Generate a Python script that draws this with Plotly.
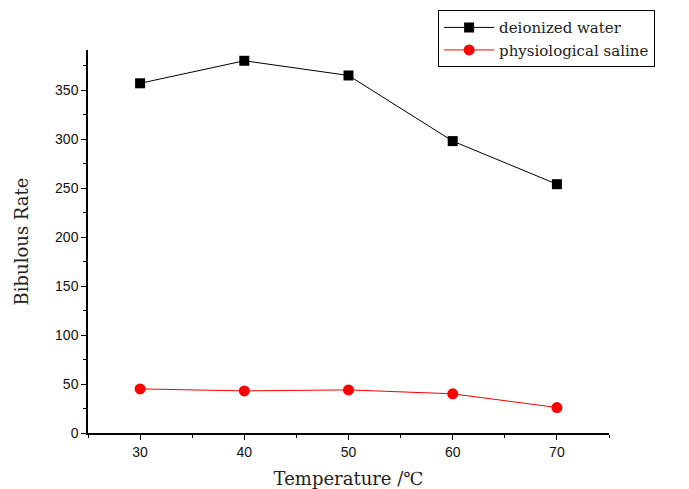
import plotly.graph_objects as go

temperature = [30, 40, 50, 60, 70]
deionized_water = [357, 380, 365, 298, 254]
physiological_saline = [45, 43, 44, 40, 26]

fig = go.Figure()
fig.add_trace(go.Scatter(x=temperature, y=deionized_water, mode="lines+markers",
                         name="deionized water",
                         line=dict(color="black", width=1),
                         marker=dict(symbol="square", size=10, color="black")))
fig.add_trace(go.Scatter(x=temperature, y=physiological_saline, mode="lines+markers",
                         name="physiological saline",
                         line=dict(color="red", width=1),
                         marker=dict(symbol="circle", size=11, color="red")))

serif = "DejaVu Serif"
# page body has an 8px default margin, so the figure is 8px smaller than the window
fig.update_layout(
    width=681, height=481,
    margin=dict(l=80, r=80, t=42, b=56, autoexpand=False),
    paper_bgcolor="white", plot_bgcolor="white",
    showlegend=True,
    legend=dict(x=0.672, y=1.104, xanchor="left", yanchor="top",
                bordercolor="black", borderwidth=1, bgcolor="white",
                font=dict(family=serif, size=15, color="#222"),
                tracegroupgap=0, itemwidth=50),
    font=dict(family="Liberation Sans, Arial, sans-serif", size=14, color="#111"),
)
fig.update_xaxes(range=[25, 75], tickvals=[30, 40, 50, 60, 70], showgrid=False, zeroline=False,
                 showline=True, linecolor="black", linewidth=1.5, ticks="outside",
                 ticklen=5, tickcolor="black", automargin=False,
                 minor=dict(tickvals=[25, 35, 45, 55, 65, 75], ticklen=3, ticks="outside", tickcolor="black"),
                 title=dict(text="Temperature /℃", font=dict(family=serif, size=18, color="#222"), standoff=14))
fig.update_yaxes(range=[0, 391], tickvals=[0, 50, 100, 150, 200, 250, 300, 350], showgrid=False, zeroline=False,
                 showline=True, linecolor="black", linewidth=1.5, ticks="outside",
                 ticklen=5, tickcolor="black", automargin=False,
                 minor=dict(tickvals=[25, 75, 125, 175, 225, 275, 325, 375], ticklen=3, ticks="outside", tickcolor="black"),
                 title=dict(text="Bibulous Rate", font=dict(family=serif, size=18, color="#222"), standoff=22))

fig.write_html("out.html")
